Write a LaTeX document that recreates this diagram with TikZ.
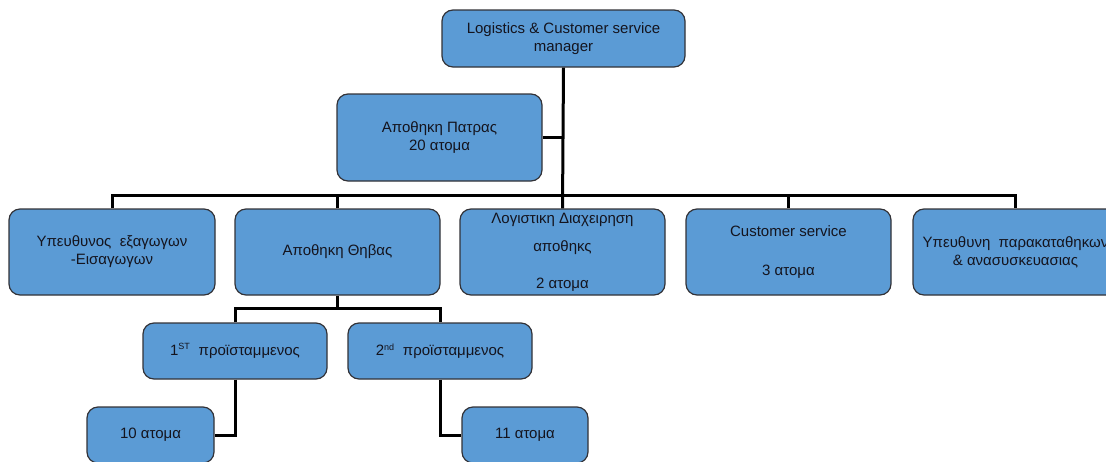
\documentclass[tikz,border=0pt]{standalone}
\usepackage{fontspec}
\setmainfont{Liberation Sans}
\begin{document}
\begin{tikzpicture}[x=1pt,y=-1pt,
  orgbox/.style={draw=boxline, line width=1.2pt, fill=boxblue, rounded corners=11pt,
    text=boxtext, align=center, inner sep=0pt,
    font=\fontsize{15pt}{18pt}\selectfont},
  link/.style={draw=black, line width=3pt}]
\definecolor{boxblue}{RGB}{91,155,213}
\definecolor{boxline}{RGB}{50,50,55}
\definecolor{boxtext}{RGB}{20,20,30}
\useasboundingbox (0,0) rectangle (1106,461);
\clip (0,0) rectangle (1106,461);

% coordinates of the two horizontal bars
\coordinate (bar) at (0,195);
\coordinate (subbar) at (0,308);

% top manager
\node[orgbox, minimum width=243pt, minimum height=57pt] (mgr) at (563.5,38.5)
  {Logistics \& Customer service\\manager};
\node[orgbox, minimum width=205pt, minimum height=87pt] (patras) at (439.5,137.5)
  {Αποθηκη Πατρας\\20 ατομα};

% second level
\node[orgbox, minimum width=206pt, minimum height=86pt] (imp) at (112,252)
  {Υπευθυνος\ \ εξαγωγων\\-Εισαγωγων};
\node[orgbox, minimum width=205pt, minimum height=86pt] (thebes) at (337.5,252)
  {Αποθηκη Θηβας};
\node[orgbox, minimum width=205pt, minimum height=86pt] (logi) at (562.5,252)
  {Λογιστικη Διαχειρηση\\[10pt]αποθηκς\\[19pt]2 ατομα};
\node[orgbox, minimum width=205pt, minimum height=86pt] (cust) at (788.5,252)
  {Customer service\\[21pt]3 ατομα};
\node[orgbox, minimum width=205pt, minimum height=86pt] (cons) at (1015.5,252)
  {Υπευθυνη\ \ παρακαταθηκων\\\& ανασυσκευασιας};

% supervisors of the Thebes warehouse
\node[orgbox, minimum width=184pt, minimum height=56pt] (sup1) at (235,351)
  {1\textsuperscript{\fontsize{9pt}{9pt}\selectfont ST}\ \ προϊσταμμενος};
\node[orgbox, minimum width=184pt, minimum height=56pt] (sup2) at (440,351)
  {2\textsuperscript{\fontsize{9pt}{9pt}\selectfont nd}\ \ προϊσταμμενος};

% staff groups
\node[orgbox, minimum width=127pt, minimum height=56pt] (team1) at (150.5,435)
  {10 ατομα};
\node[orgbox, minimum width=126pt, minimum height=56pt] (team2) at (525,435)
  {11 ατομα};

% connectors
\draw[link] (mgr.south) -- (logi.north);
\draw[link] (patras.east) -- (patras.east -| mgr.south);
\draw[link] (imp.north) -- (imp.north |- bar) -- (cons.north |- bar) -- (cons.north);
\draw[link] (thebes.north) -- (thebes.north |- bar);
\draw[link] (cust.north) -- (cust.north |- bar);
\draw[link] (thebes.south) -- (thebes.south |- subbar);
\draw[link] (sup1.north) -- (sup1.north |- subbar) -- (sup2.north |- subbar) -- (sup2.north);
\draw[link] (sup1.south) |- (team1.east);
\draw[link] (sup2.south) |- (team2.west);
\end{tikzpicture}
\end{document}
